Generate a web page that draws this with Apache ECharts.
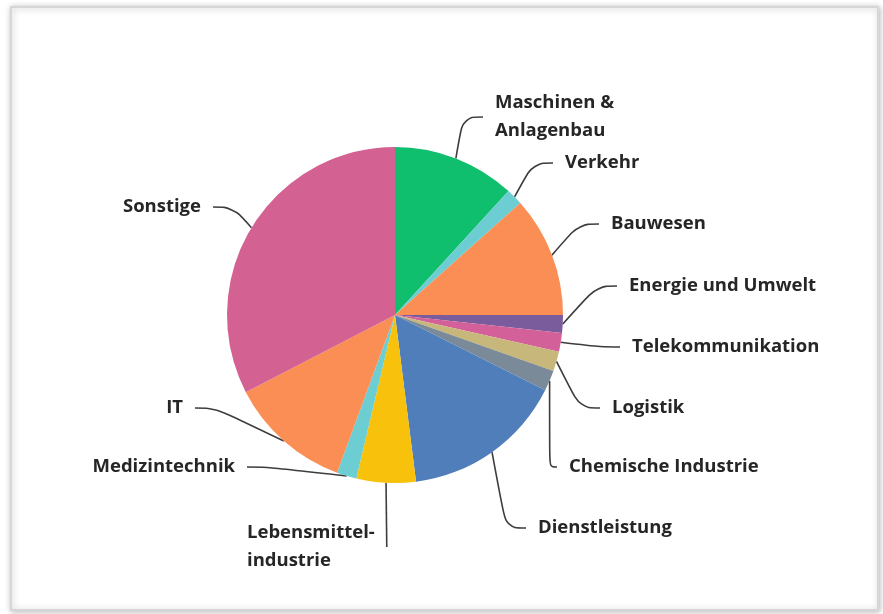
<!DOCTYPE html>
<html>
<head>
<meta charset="UTF-8">
<title>Branchen</title>
<script src="https://cdn.jsdelivr.net/npm/echarts@6/dist/echarts.min.js"></script>
<style>
  html, body { margin: 0; padding: 0; background: #fff; }
  #main { width: 883px; height: 614px; }
</style>
</head>
<body>
<div id="main"></div>
<script>
// Branchen, im Uhrzeigersinn ab 12 Uhr
var categories = [
  'Maschinen &\nAnlagenbau', 'Verkehr', 'Bauwesen', 'Energie und Umwelt',
  'Telekommunikation', 'Logistik', 'Chemische Industrie', 'Dienstleistung',
  'Lebensmittel-\nindustrie', 'Medizintechnik', 'IT', 'Sonstige'
];
// Anteile in Prozent (aus dem Bild geschaetzt)
var values = [11.8, 1.6, 11.6, 1.7, 1.8, 1.9, 2.0, 15.6, 5.7, 1.9, 11.8, 32.6];

var colors = [
  '#10bf6e', '#6ccdd2', '#fa8e55', '#7a5b9b', '#d4609a', '#c8b77b',
  '#7b8a98', '#507eba', '#f8c10c', '#6ccdd2', '#fa8e55', '#d36192'
];

// Lage der Beschriftungen (Textanfang bzw. -ende): [x, y-Mitte, Ausrichtung]
var labelPos = [
  [495, 117, 'left'], [565, 163, 'left'], [611, 224, 'left'], [629, 286, 'left'],
  [632, 347, 'left'], [612, 408, 'left'], [569, 467, 'left'], [538, 528, 'left'],
  [247, 547, 'left'], [235, 467, 'right'], [183, 408, 'right'], [201, 207, 'right']
];
var gap = 12;

var chart = echarts.init(document.getElementById('main'), null, { renderer: 'canvas' });

var data = categories.map(function (name, i) {
  return { name: name, value: values[i], itemStyle: { color: colors[i] } };
});

chart.setOption({
  animation: false,
  backgroundColor: '#fff',
  graphic: [{
    type: 'rect',
    z: -10,
    shape: { x: 11, y: 7, width: 867, height: 603 },
    style: {
      fill: '#fff',
      stroke: '#d6d6d6',
      lineWidth: 2,
      shadowBlur: 6,
      shadowColor: 'rgba(0,0,0,0.25)',
      shadowOffsetX: 1,
      shadowOffsetY: 1
    }
  }],
  series: [{
    type: 'pie',
    center: [395, 315],
    radius: 168,
    startAngle: 90,
    clockwise: true,
    data: data,
    itemStyle: { borderWidth: 0 },
    label: {
      show: true,
      position: 'outside',
      color: '#262626',
      fontFamily: 'Open Sans',
      fontWeight: 'bold',
      fontSize: 18.5,
      lineHeight: 28,
      padding: [0, gap, 0, gap]
    },
    labelLine: {
      show: true,
      smooth: 0.4,
      length: 20,
      length2: 20,
      lineStyle: { color: '#3d3d3d', width: 1.6 }
    },
    labelLayout: function (p) {
      var lp = labelPos[p.dataIndex];
      var x = lp[2] === 'left' ? lp[0] - gap : lp[0] + gap;
      return { x: x, y: lp[1], align: lp[2], verticalAlign: 'middle' };
    },
    emphasis: { disabled: true }
  }]
});
</script>
</body>
</html>
